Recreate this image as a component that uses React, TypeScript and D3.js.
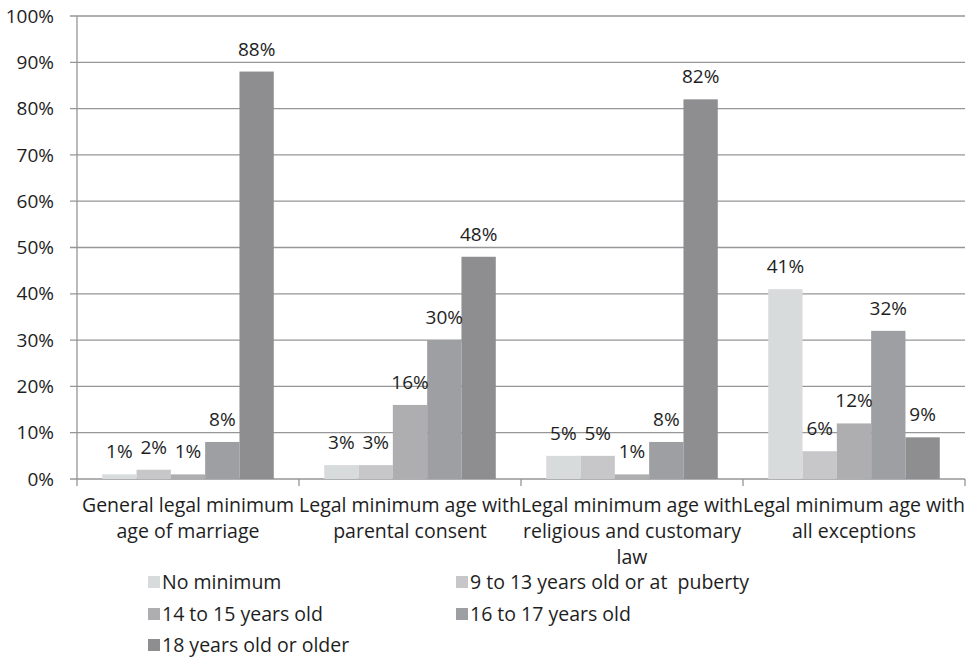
import React from "react";
import * as d3 from "d3";

const categories: string[][] = [
  ["General legal minimum", "age of marriage"],
  ["Legal minimum age with", "parental consent"],
  ["Legal minimum age with", "religious and customary", "law"],
  ["Legal minimum age with", "all exceptions"],
];
const seriesNames = [
  "No minimum",
  "9 to 13 years old or at  puberty",
  "14 to 15 years old",
  "16 to 17 years old",
  "18 years old or older",
];
const seriesColors = ["#d8dbdc", "#c7c7c9", "#aeaeb1", "#9e9fa2", "#8e8e90"];
// values per series, across the four categories
const noMinimum = [1, 3, 5, 41];
const age9to13 = [2, 3, 5, 6];
const age14to15 = [1, 16, 1, 12];
const age16to17 = [8, 30, 8, 32];
const age18plus = [88, 48, 82, 9];
const seriesValues = [noMinimum, age9to13, age14to15, age16to17, age18plus];
const yTicks = [0, 10, 20, 30, 40, 50, 60, 70, 80, 90, 100];

const W = 969;
const H = 658;
const FONT = "'Open Sans', sans-serif";
const FS = 19;
const TEXT = "#1e1e1e";
const GRID = "#969696";

export default function App() {
  const left = 77;
  const right = 965;
  const top = 16;
  const bottom = 479;
  const catIdx = categories.map((_, i) => i);
  const x0 = d3.scaleBand<number>().domain(catIdx).range([left, right]).padding(0);
  const x1 = d3
    .scaleBand<number>()
    .domain(seriesNames.map((_, i) => i))
    .range([0, x0.bandwidth()])
    .paddingInner(0)
    .paddingOuter(0.735);
  const y = d3.scaleLinear().domain([0, 100]).range([bottom, top]);

  const legendCols = [148, 456];
  const legendRows = [582, 614, 645];

  return (
    <div style={{ position: "absolute", left: 0, top: 0 }}>
      <svg width={W} height={H} style={{ display: "block", background: "#fff" }}>
        {/* gridlines and y ticks */}
        {yTicks.map((t) => (
          <g key={t}>
            <line x1={left - 7} x2={right} y1={y(t)} y2={y(t)} stroke={GRID} strokeWidth={1.3} />
            <text
              x={54}
              y={y(t)}
              dy="0.35em"
              textAnchor="end"
              fontFamily={FONT}
              fontSize={FS}
              fill={TEXT}
            >
              {t}%
            </text>
          </g>
        ))}
        {/* y axis line */}
        <line x1={left} x2={left} y1={top} y2={bottom + 7} stroke={GRID} strokeWidth={1.3} />
        {/* x category ticks */}
        {catIdx.map((i) => (
          <line
            key={i}
            x1={x0(i)! + x0.bandwidth()}
            x2={x0(i)! + x0.bandwidth()}
            y1={bottom}
            y2={bottom + 7}
            stroke={GRID}
            strokeWidth={1.3}
          />
        ))}
        {/* bars */}
        {seriesValues.map((vals, s) =>
          vals.map((v, c) => (
            <rect
              key={`${s}-${c}`}
              x={x0(c)! + x1(s)!}
              y={y(v)}
              width={x1.bandwidth()}
              height={bottom - y(v)}
              fill={seriesColors[s]}
            />
          ))
        )}
        {/* value labels */}
        {seriesValues.map((vals, s) =>
          vals.map((v, c) => (
            <text
              key={`l${s}-${c}`}
              x={x0(c)! + x1(s)! + x1.bandwidth() / 2}
              y={y(v) - 16}
              textAnchor="middle"
              fontFamily={FONT}
              fontSize={FS}
              fill={TEXT}
            >
              {v}%
            </text>
          ))
        )}
        {/* category labels */}
        {categories.map((lines, i) => (
          <text
            key={`c${i}`}
            x={x0(i)! + x0.bandwidth() / 2}
            y={512}
            textAnchor="middle"
            fontFamily={FONT}
            fontSize={19.5}
            fill={TEXT}
          >
            {lines.map((ln, k) => (
              <tspan key={k} x={x0(i)! + x0.bandwidth() / 2} y={512 + k * 26}>
                {ln}
              </tspan>
            ))}
          </text>
        ))}
        {/* legend */}
        {seriesNames.map((name, s) => {
          const cx = legendCols[s % 2];
          const cy = legendRows[Math.floor(s / 2)];
          return (
            <g key={`lg${s}`}>
              <rect x={cx} y={cy - 6} width={12} height={12} fill={seriesColors[s]} />
              <text
                x={cx + 14}
                y={cy}
                dy="0.35em"
                fontFamily={FONT}
                fontSize={19.5}
                fill={TEXT}
                xmlSpace="preserve"
                style={{ whiteSpace: "pre" }}
              >
                {name}
              </text>
            </g>
          );
        })}
      </svg>
    </div>
  );
}
